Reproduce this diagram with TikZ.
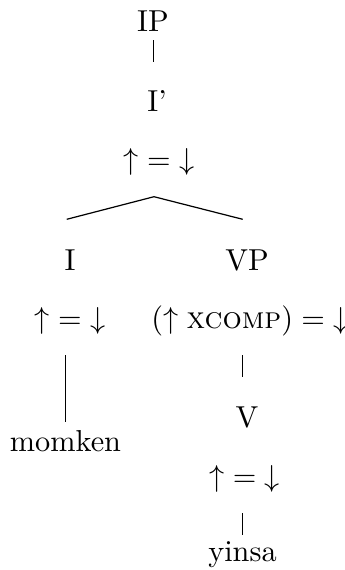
\documentclass[tikz,border=0pt]{standalone}
\begin{document}
\begin{tikzpicture}[x=0.33pt,y=-0.33pt,
  lbl/.style={inner sep=0pt,anchor=base},
  edge/.style={line width=0.4pt}]
\useasboundingbox (0,0) rectangle (344,570);
\node[lbl] (IP) at (153,31.7) {IP};
\node[lbl] (Ibar) at (157,111.7) {I'};
\node[lbl] (eq1) at (159,169) {$\mathord{\uparrow}=\mathord{\downarrow}$};
\node[lbl] (I) at (70,270.7) {I};
\node[lbl] (VP) at (247,270.7) {VP};
\node[lbl] (eq2) at (70,328) {$\mathord{\uparrow}=\mathord{\downarrow}$};
\node[lbl] (eq3) at (250,328) {$(\uparrow\textsc{xcomp}) = \mathord{\downarrow}$};
\node[lbl] (momken) at (65.5,451.7) {momken};
\node[lbl] (V) at (247,427) {V};
\node[lbl] (eq4) at (244.7,486.8) {$\mathord{\uparrow}=\mathord{\downarrow}$};
\node[lbl] (yinsa) at (242.5,561.7) {yinsa};
\coordinate (a1) at (153.7,40);
\coordinate (a2) at (153.7,62);
\coordinate (apex) at (154,196.7);
\coordinate (lft) at (66.7,219.3);
\coordinate (rgt) at (242.7,219.3);
\coordinate (b1) at (65.7,355);
\coordinate (b2) at (65.7,421.7);
\coordinate (c1) at (242.3,355);
\coordinate (c2) at (242.3,377);
\coordinate (d1) at (242.3,513);
\coordinate (d2) at (242.3,535);
\draw[edge] (a1) -- (a2);
\draw[edge] (lft) -- (apex) -- (rgt);
\draw[edge] (b1) -- (b2);
\draw[edge] (c1) -- (c2);
\draw[edge] (d1) -- (d2);
\end{tikzpicture}
\end{document}
